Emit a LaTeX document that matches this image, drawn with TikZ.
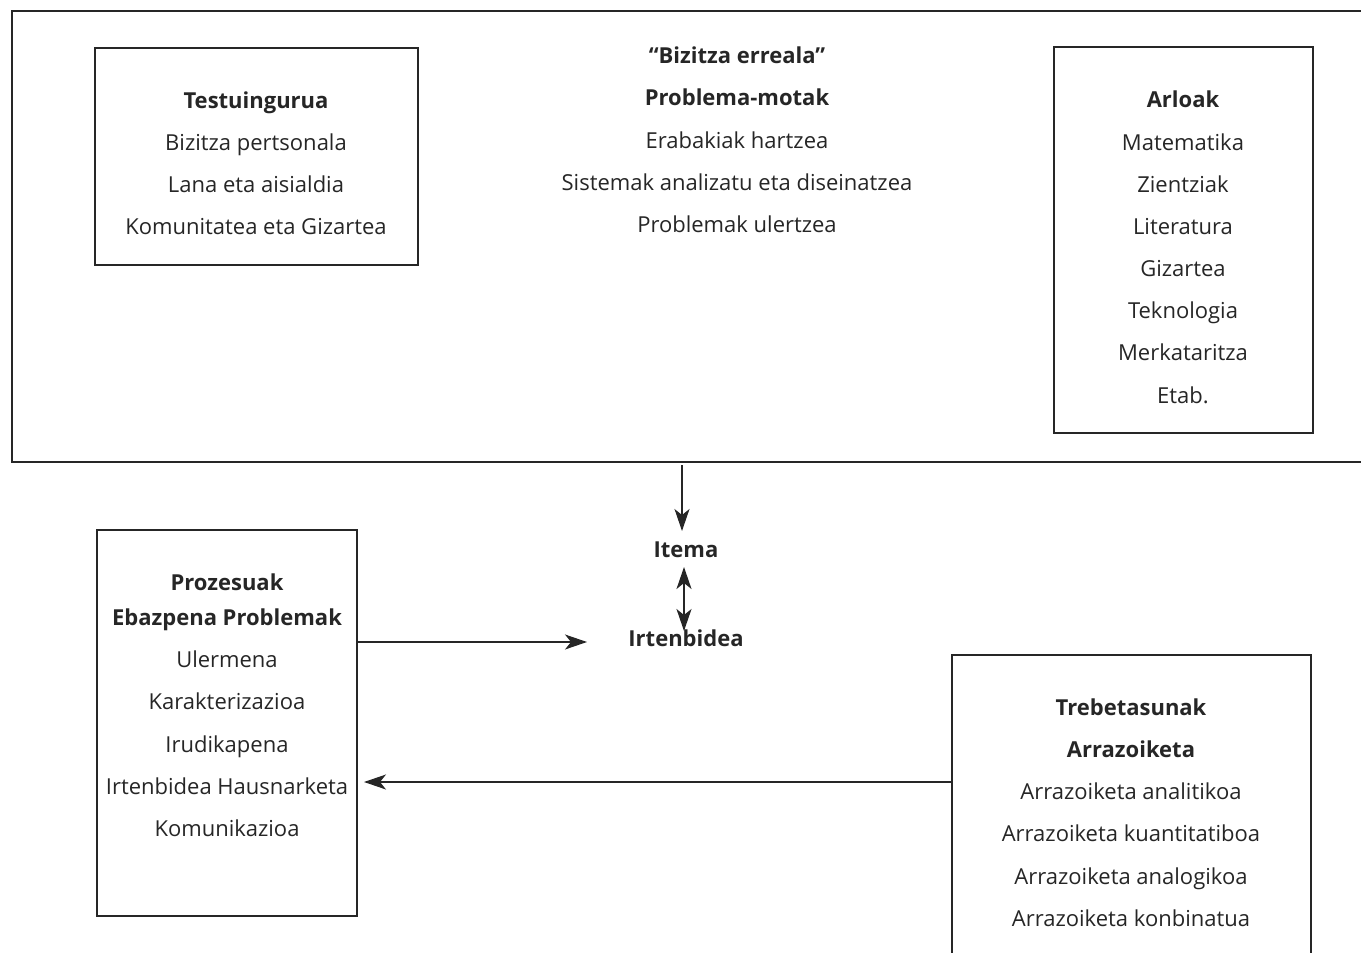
\documentclass[tikz,border=0pt]{standalone}
\usepackage{fontspec}
\setmainfont{Open Sans}
\usetikzlibrary{arrows.meta}
\definecolor{ink}{HTML}{262626}
\begin{document}
\begin{tikzpicture}[x=0.5pt,y=-0.5pt,
  frame/.style={draw=ink, line width=0.75pt, inner sep=0pt, outer sep=0pt, rectangle},
  txt/.style={anchor=base, inner sep=0pt, text=ink, font=\fontsize{11}{13}\selectfont},
  hd/.style={txt, font=\fontsize{11}{13}\selectfont\bfseries},
  arr/.style={draw=ink, line width=0.6pt, -{Stealth[length=11pt,width=7.5pt,inset=3pt]}},
  darr/.style={draw=ink, line width=0.9pt, {Stealth[length=11pt,width=7.5pt,inset=3pt]}-{Stealth[length=11pt,width=7.5pt,inset=3pt]}}]
\useasboundingbox (0,0) rectangle (1361,953);
% frames
\node[frame, minimum width=681.5pt, minimum height=225.5pt] (outer) at (693.5,236.5) {};
\node[frame, minimum width=161.5pt, minimum height=108.5pt] (testbox) at (256.5,156.5) {};
\node[frame, minimum width=129.5pt, minimum height=193pt] (arlbox) at (1183.5,240) {};
\node[frame, minimum width=130pt, minimum height=193pt] (probox) at (227,723) {};
\node[frame, minimum width=179.5pt, minimum height=157.5pt] (trebox) at (1131.5,812.5) {};
% Testuingurua
\node[hd] (t0) at (256,108) {Testuingurua};
\node[txt] (t1) at (256,150) {Bizitza pertsonala};
\node[txt] (t2) at (256,192) {Lana eta aisialdia};
\node[txt] (t3) at (256,234) {Komunitatea eta Gizartea};
% middle
\node[hd] (m0) at (737,63) {“Bizitza erreala”};
\node[hd] (m1) at (737,105) {Problema-motak};
\node[txt] (m2) at (737,148) {Erabakiak hartzea};
\node[txt] (m3) at (737,190) {Sistemak analizatu eta diseinatzea};
\node[txt] (m4) at (737,232) {Problemak ulertzea};
% Arloak
\node[hd] (a0) at (1183,107) {Arloak};
\node[txt] (a1) at (1183,150) {Matematika};
\node[txt] (a2) at (1183,192) {Zientziak};
\node[txt] (a3) at (1183,234) {Literatura};
\node[txt] (a4) at (1183,276) {Gizartea};
\node[txt] (a5) at (1183,318) {Teknologia};
\node[txt] (a6) at (1183,360) {Merkataritza};
\node[txt] (a7) at (1183,403) {Etab.};
% Itema / Irtenbidea
\node[hd] (itema) at (686,557) {Itema};
\node[hd] (irten) at (686,646) {Irtenbidea};
% Prozesuak
\node[hd] (p0) at (227,590) {Prozesuak};
\node[hd] (p1) at (227,625) {Ebazpena Problemak};
\node[txt] (p2) at (227,667) {Ulermena};
\node[txt] (p3) at (227,709) {Karakterizazioa};
\node[txt] (p4) at (227,752) {Irudikapena};
\node[txt] (p5) at (227,794) {Irtenbidea Hausnarketa};
\node[txt] (p6) at (227,836) {Komunikazioa};
% Trebetasunak
\node[hd] (r0) at (1131,715) {Trebetasunak};
\node[hd] (r1) at (1131,757) {Arrazoiketa};
\node[txt] (r2) at (1131,799) {Arrazoiketa analitikoa};
\node[txt] (r3) at (1131,841) {Arrazoiketa kuantitatiboa};
\node[txt] (r4) at (1131,884) {Arrazoiketa analogikoa};
\node[txt] (r5) at (1131,926) {Arrazoiketa konbinatua};
% connector ends
\coordinate (c1s) at (682,465);
\coordinate (c1e) at (682,531);
\coordinate (c2s) at (684,567);
\coordinate (c2e) at (684,631);
\coordinate (c3e) at (587,642);
\coordinate (c4e) at (364,782);
% connectors
\draw[arr] (c1s) -- (c1e);
\draw[darr] (c2s) -- (c2e);
\draw[arr] (probox.east |- c3e) -- (c3e);
\draw[arr] (trebox.west |- c4e) -- (c4e);
\end{tikzpicture}
\end{document}
